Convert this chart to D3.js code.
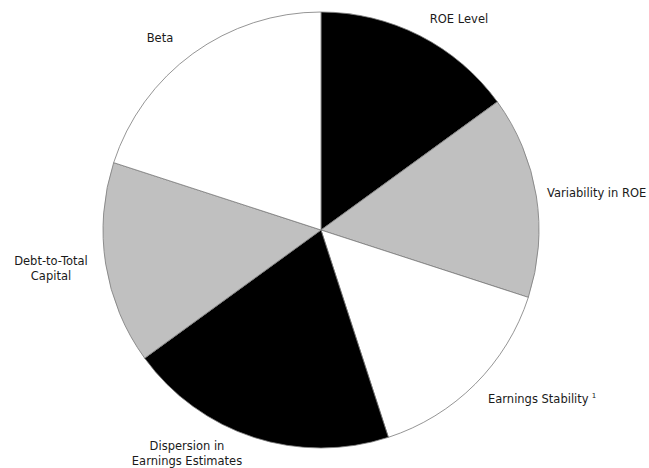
<!DOCTYPE html>
<html>
<head>
<meta charset="utf-8">
<script src="https://cdn.jsdelivr.net/npm/d3@7"></script>
<style>
  html, body { margin: 0; padding: 0; background: #fff; }
  svg { display: block; }
  text { font-family: "DejaVu Sans", Verdana, sans-serif; font-size: 11.5px; fill: #1a1a1a; }
</style>
</head>
<body>
<svg id="chart" width="649" height="468"></svg>
<script>
// Factor weights (percent), clockwise from 12 o'clock
const categories = ["ROE Level", "Variability in ROE", "Earnings Stability", "Dispersion in Earnings Estimates", "Debt-to-Total Capital", "Beta"];
const weights = [15, 15, 15, 20, 15, 20];
const fills = ["#000000", "#c0c0c0", "#ffffff", "#000000", "#c0c0c0", "#ffffff"];

// Label placement: text lines, anchor, and position
const labelLines = [["ROE Level"], ["Variability in ROE"], ["Earnings Stability"], ["Dispersion in", "Earnings Estimates"], ["Debt-to-Total", "Capital"], ["Beta"]];
const labelLayout = [
  { x: 459, y: 23, anchor: "middle" },
  { x: 547, y: 197, anchor: "start" },
  { x: 488, y: 403, anchor: "start", sup: "1" },
  { x: 187, y: 450, anchor: "middle" },
  { x: 51, y: 265, anchor: "middle" },
  { x: 160, y: 42, anchor: "middle" }
];

const svg = d3.select("#chart");
const cx = 321, cy = 230, r = 218;

const data = categories.map((c, i) => ({ name: c, value: weights[i], fill: fills[i] }));

const pie = d3.pie().sort(null).value(d => d.value);
const arc = d3.arc().innerRadius(0).outerRadius(r);

const g = svg.append("g").attr("transform", `translate(${cx},${cy})`);
g.selectAll("path")
  .data(pie(data))
  .join("path")
  .attr("d", arc)
  .attr("fill", d => d.data.fill)
  .attr("stroke", "#7a7a7a")
  .attr("stroke-width", 0.8)
  .attr("stroke-linejoin", "round");

labelLayout.forEach((L, i) => {
  const t = svg.append("text")
    .attr("x", L.x)
    .attr("y", L.y)
    .attr("text-anchor", L.anchor);
  labelLines[i].forEach((line, k) => {
    t.append("tspan")
      .attr("x", L.x)
      .attr("dy", k === 0 ? 0 : 15)
      .text(line);
  });
  if (L.sup) {
    t.append("tspan")
      .attr("dx", 3)
      .attr("dy", -5)
      .attr("font-size", "7px")
      .text(L.sup);
  }
});
</script>
</body>
</html>
